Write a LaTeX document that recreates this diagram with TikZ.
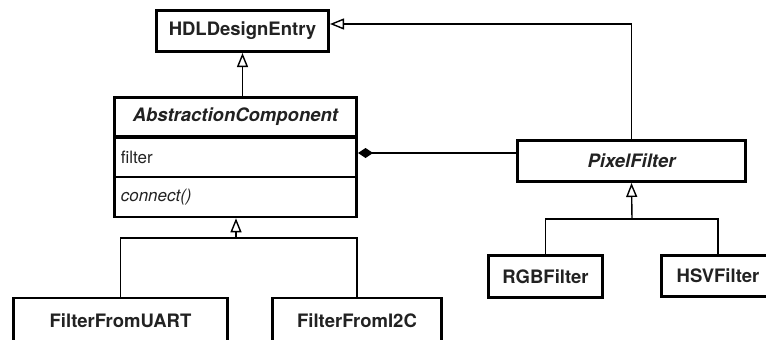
\documentclass[tikz,border=0pt]{standalone}
\usepackage{fontspec}
\setmainfont{TeX Gyre Heros}
\usetikzlibrary{arrows.meta,shadows}
\definecolor{ink}{HTML}{222222}
\tikzset{
  umlbox/.style={draw=black, line width=2.6pt, fill=white, inner sep=0pt,
    text=ink, font=\fontsize{18.5}{20}\selectfont\bfseries,
    drop shadow={shadow xshift=1.2pt, shadow yshift=-1.2pt, opacity=0.2, fill=black}},
  compbox/.style={draw=black, line width=2.6pt, fill=white, inner ysep=0pt, inner xsep=6.5pt,
    text=ink, font=\fontsize{17}{19}\selectfont, align=left, text width=229.4pt},
  conn/.style={line width=1.4pt, draw=black},
  gen/.style={conn, -{Triangle[open, width=11pt, length=14pt, line width=1.4pt]}},
  comp/.style={conn, -{Diamond[width=10pt, length=15pt]}},
}
\begin{document}
\begin{tikzpicture}[x=1pt, y=-1pt]
\useasboundingbox (0,0) rectangle (766,340);
% class boxes
\node[umlbox, minimum width=172.4pt, minimum height=41.4pt] (hdl) at (242.5,31) {HDLDesignEntry};
\node[umlbox, minimum width=228.4pt, minimum height=41.4pt] (pf) at (631.5,161) {\itshape PixelFilter};
\node[umlbox, minimum width=114.4pt, minimum height=42.4pt] (rgb) at (545.5,276.5) {RGBFilter};
\node[umlbox, minimum width=113.4pt, minimum height=41.4pt] (hsv) at (718,276) {HSVFilter};
\node[umlbox, minimum width=214.4pt, minimum height=45.4pt] (uart) at (120.5,320.5) {FilterFromUART};
\node[umlbox, minimum width=169.4pt, minimum height=45.4pt] (i2c) at (357,320.5) {FilterFromI2C};
% abstraction component (three compartments)
\fill[black, opacity=0.2] (114.5+1.2,97.5+1.2) rectangle (356.5+1.2,215.5+1.2);
\node[umlbox, drop shadow={opacity=0}, minimum width=242.4pt, minimum height=39.4pt] (acname) at (235.5,117) {\itshape AbstractionComponent};
\node[compbox, minimum height=39pt] (acattr) at (235.5,157.5) {filter};
\node[compbox, minimum height=40pt, font=\fontsize{17}{19}\selectfont\itshape] (acop) at (235.5,197) {connect()};
% anchor points
\coordinate (ytop) at (0,24);
\coordinate (ycomp) at (0,153);
\coordinate (jac) at (236,238);
\coordinate (jpf) at (632,219);
% connectors
\draw[gen] (acname.north -| hdl.south) -- (hdl.south);
\draw[gen] (pf.north) |- (hdl.east |- ytop);
\draw[comp] (pf.west |- ycomp) -- (acattr.east |- ycomp);
\draw[conn] (uart.north) |- (jac) -| (i2c.north);
\draw[gen] (jac) -- (acop.south -| jac);
\draw[conn] (rgb.north) |- (jpf) -| (hsv.north);
\draw[gen] (jpf) -- (pf.south);
\end{tikzpicture}
\end{document}
